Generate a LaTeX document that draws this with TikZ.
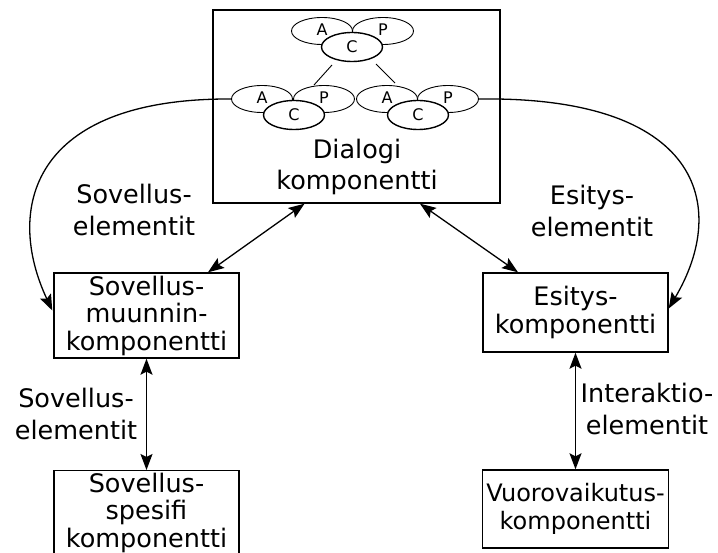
\documentclass[tikz,border=0pt]{standalone}
\usepackage{fontspec}
\setmainfont{DejaVu Sans}
\usetikzlibrary{shapes.geometric,arrows.meta,calc}
\begin{document}
\begin{tikzpicture}[x=1pt,y=-1pt,
  comp/.style={draw,line width=1.4pt,align=center,inner sep=0pt,
    font=\fontsize{25.5}{27.5}\selectfont},
  lbl/.style={align=center,inner sep=0pt,font=\fontsize{25.5}{32.5}\selectfont},
  part/.style={ellipse,draw,fill=white,line width=0.9pt,inner sep=0pt,
    minimum width=61pt,minimum height=27pt,font=\fontsize{16}{16}\selectfont},
  ctrl/.style={part,line width=1.4pt,minimum height=29pt},
  both/.style={line width=1.3pt,{Stealth[length=16pt,width=12pt,inset=3pt]}-{Stealth[length=16pt,width=12pt,inset=3pt]}},
  one/.style={line width=1.3pt,-{Stealth[length=16pt,width=12pt,inset=3pt]}},
  thin/.style={line width=0.9pt}]
\useasboundingbox (0,0) rectangle (718,553);

% dialogue component with its A-C-P tree
\node[comp,minimum width=287pt,minimum height=193pt] (dlg) at (356.5,106.5) {};
\node[font=\fontsize{25.5}{31}\selectfont,align=center,inner sep=0pt] (dtext) at (357,167) {Dialogi\\komponentti};

\node[part] (tA) at (322,31) {\raisebox{3pt}{A}};
\node[part] (tP) at (383,31) {\raisebox{3pt}{P}};
\node[ctrl] (tC) at (352,47) {C};

\node[part] (lA) at (262,99) {\raisebox{3pt}{A}};
\node[part] (lP) at (324,99) {\raisebox{3pt}{P}};
\node[ctrl] (lC) at (294,115) {C};

\node[part] (rA) at (387,99) {\raisebox{3pt}{A}};
\node[part] (rP) at (448,99) {\raisebox{3pt}{P}};
\node[ctrl] (rC) at (418,115) {C};

\draw[thin] ($(tC)+(-20,18)$) -- ($(lP)+(-10,-14)$);
\draw[thin] ($(tC)+(24,17)$) -- ($(rA)+(8,-16)$);

% components
\node[comp,minimum width=185pt,minimum height=85pt] (app) at (146.5,315.5)
  {Sovellus-\\muunnin-\\komponentti};
\node[comp,minimum width=185pt,minimum height=79pt] (pres) at (575.5,312.5)
  {Esitys-\\komponentti};
\node[comp,minimum width=185pt,minimum height=84pt,anchor=north] (spec) at (146.5,470)
  {Sovellus-\\spesifi\\komponentti};
\node[comp,minimum width=186pt,minimum height=78pt,
  font=\fontsize{24}{27.5}\selectfont] (inter) at (575.5,509)
  {Vuorovaikutus-\\komponentti};

% labels
\node[lbl] (l1) at (134,210) {Sovellus-\\elementit};
\node[lbl] (l2) at (592,211) {Esitys-\\elementit};
\node[lbl] (l3) at (76,414) {Sovellus-\\elementit};
\node[lbl] (l4) at (647,409) {Interaktio-\\elementit};

% connectors
\draw[both] ($(dlg.south)+(-52,0)$) -- ($(app.north)+(61.5,0)$);
\draw[both] ($(dlg.south)+(63.5,0)$) -- ($(pres.north)+(-57.5,0)$);
\draw[both] (app.south) -- (spec.north);
\draw[both] (pres.south) -- (inter.north);

\draw[one] (lA.west) .. controls (30,98) and (5,210) .. ($(app.west)+(-1,-5)$);
\draw[one] (rP.east) .. controls (700,96) and (730,205) .. ($(pres.east)+(0,-4)$);
\end{tikzpicture}
\end{document}
